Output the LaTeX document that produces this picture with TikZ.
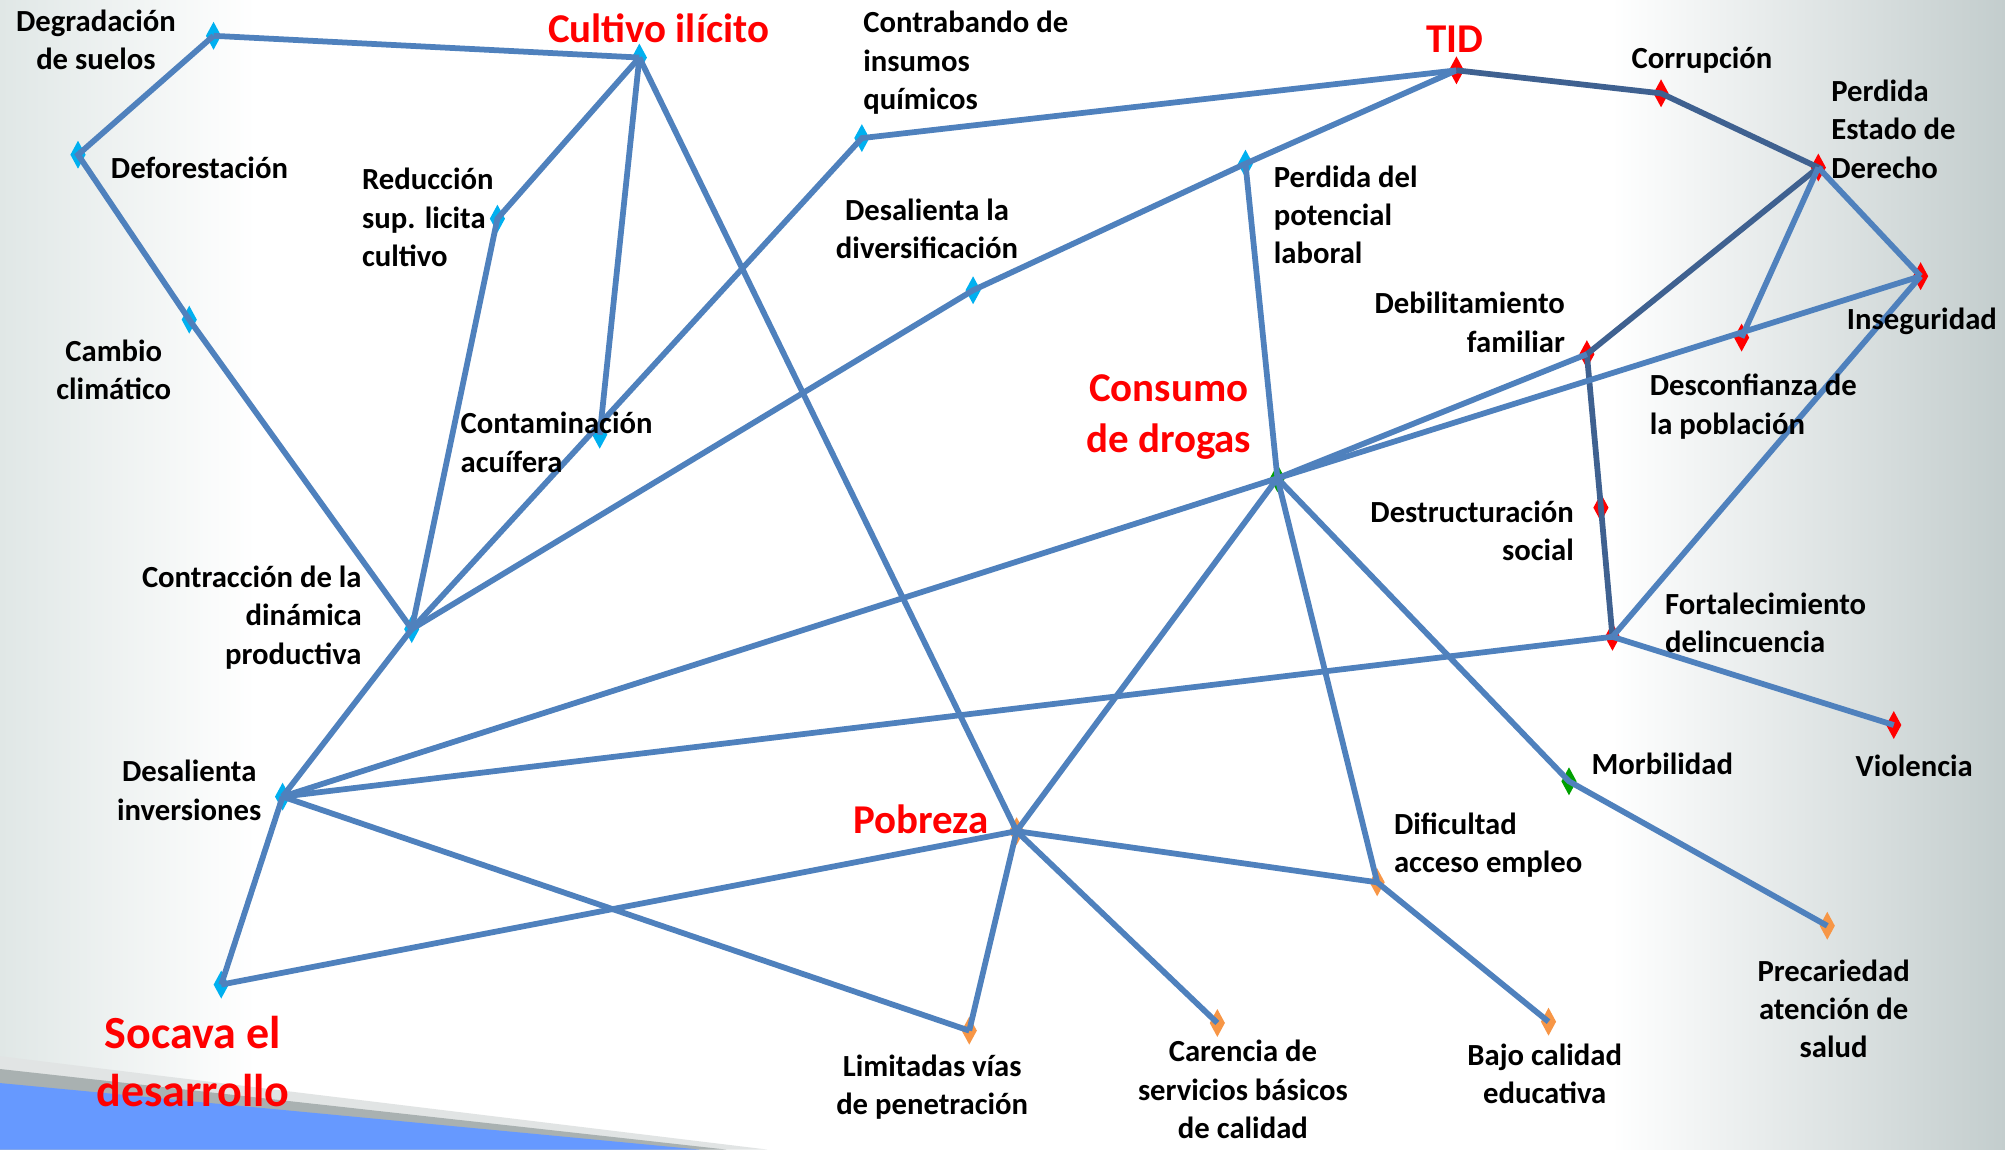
\documentclass[tikz,border=0pt]{standalone}
\usepackage{fontspec}
\setmainfont{Carlito}
\usetikzlibrary{shapes.geometric}
\definecolor{edgeblue}{HTML}{4F81BD}
\definecolor{edgedark}{HTML}{3F6190}
\definecolor{mkcyan}{HTML}{00B0F0}
\definecolor{mkred}{HTML}{FF0000}
\definecolor{mkgreen}{HTML}{00A000}
\definecolor{mkorange}{HTML}{F79646}
\definecolor{bandblue}{HTML}{6699FF}
\definecolor{bandgray}{HTML}{A9B1B1}
\definecolor{sidegray}{HTML}{C3CDCD}
\definecolor{leftgray}{HTML}{E0E7E6}
\tikzset{
  mk/.style={diamond, fill=#1, inner sep=0pt, minimum width=12pt, minimum height=22pt},
  lbl/.style={font=\fontsize{24}{30}\selectfont\bfseries, inner sep=0pt},
  ttl/.style={font=\fontsize{32}{40}\selectfont\bfseries, text=red, inner sep=0pt},
  ln/.style={edgeblue, line width=4.5pt},
  lnd/.style={edgedark, line width=4.5pt}
}

\begin{document}
\begin{tikzpicture}[x=1pt, y=-1pt]
  \useasboundingbox (0,0) rectangle (1568,899);
  \clip (0,0) rectangle (1568,899);
  \fill[white] (0,0) rectangle (1568,899);
  \shade[left color=leftgray, right color=white] (0,0) rectangle (200,899);
  \shade[left color=white, right color=sidegray] (1260,0) rectangle (1568,899);
  \fill[bandgray!35] (0,826) -- (600,899) -- (0,899) -- cycle;
  \fill[bandgray] (0,836) -- (568,899) -- (0,899) -- cycle;
  \fill[bandblue] (0,847) -- (547,899) -- (0,899) -- cycle;

  \node[mk=mkcyan] (ds) at (167,28) {};
  \node[mk=mkcyan] (ci) at (500,45) {};
  \node[mk=mkcyan] (def) at (61,121) {};
  \node[mk=mkcyan] (cc) at (148,250) {};
  \node[mk=mkcyan] (rs) at (389,171) {};
  \node[mk=mkcyan] (ca) at (469,340) {};
  \node[mk=mkcyan] (ciq) at (674,108) {};
  \node[mk=mkcyan] (dd) at (761,227) {};
  \node[mk=mkcyan] (ppl) at (974,128) {};
  \node[mk=mkcyan] (cdp) at (322,492) {};
  \node[mk=mkcyan] (di) at (221,623) {};
  \node[mk=mkcyan] (sd) at (173,770) {};
  \node[mk=mkred] (tid) at (1139,55) {};
  \node[mk=mkred] (cor) at (1299,73) {};
  \node[mk=mkred] (ped) at (1422,131) {};
  \node[mk=mkred] (ins) at (1502,216) {};
  \node[mk=mkred] (dfp) at (1362,264) {};
  \node[mk=mkred] (dfam) at (1241,277) {};
  \node[mk=mkred] (des) at (1252,397) {};
  \node[mk=mkred] (fd) at (1261,498) {};
  \node[mk=mkred] (vio) at (1481,567) {};
  \node[mk=mkgreen] (cd) at (999,374) {};
  \node[mk=mkgreen] (mor) at (1227,611) {};
  \node[mk=mkorange] (pob) at (795,650) {};
  \node[mk=mkorange] (dae) at (1077,690) {};
  \node[mk=mkorange] (lvp) at (758,806) {};
  \node[mk=mkorange] (csb) at (952,800) {};
  \node[mk=mkorange] (bce) at (1211,799) {};
  \node[mk=mkorange] (pas) at (1429,724) {};

  \draw[ln] (ds.center) -- (ci.center);
  \draw[ln] (ds.center) -- (def.center) -- (cc.center) -- (cdp.center);
  \draw[ln] (ci.center) -- (rs.center) -- (cdp.center);
  \draw[ln] (ci.center) -- (ca.center);
  \draw[ln] (ci.center) -- (pob.center);
  \draw[ln] (cdp.center) -- (ciq.center) -- (tid.center);
  \draw[ln] (cdp.center) -- (dd.center) -- (ppl.center) -- (tid.center);
  \draw[ln] (ppl.center) -- (cd.center);
  \draw[lnd] (tid.center) -- (cor.center) -- (ped.center) -- (dfam.center) -- (des.center) -- (fd.center);
  \draw[ln] (ped.center) -- (dfp.center);
  \draw[ln] (ped.center) -- (ins.center);
  \draw[ln] (ins.center) -- (cd.center);
  \draw[ln] (ins.center) -- (fd.center);
  \draw[ln] (cd.center) -- (dfam.center);
  \draw[ln] (cd.center) -- (di.center);
  \draw[ln] (cd.center) -- (pob.center);
  \draw[ln] (cd.center) -- (dae.center) -- (bce.center);
  \draw[ln] (cd.center) -- (mor.center) -- (pas.center);
  \draw[ln] (pob.center) -- (dae.center);
  \draw[ln] (pob.center) -- (lvp.center);
  \draw[ln] (pob.center) -- (csb.center);
  \draw[ln] (pob.center) -- (sd.center);
  \draw[ln] (di.center) -- (lvp.center);
  \draw[ln] (di.center) -- (fd.center);
  \draw[ln] (di.center) -- (sd.center);
  \draw[ln] (di.center) -- (cdp.center);
  \draw[ln] (fd.center) -- (vio.center);

  \node[lbl, align=center] (lds) at (75,31) {Degradación\\de suelos};
  \node[lbl] (ldef) at (156,131) {Deforestación};
  \node[lbl, align=center] (lcc) at (89,289) {Cambio\\climático};
  \node[lbl, align=left, anchor=west] (lrs) at (283,170) {Reducción\\sup. licita\\cultivo};
  \node[lbl, align=left, anchor=west] (lca) at (360,346) {Contaminación\\acuífera};
  \node[lbl, align=left, anchor=west] (lciq) at (675,49) {Contrabando de\\insumos\\químicos};
  \node[lbl, align=center] (ldd) at (725,179) {Desalienta la\\diversificación};
  \node[lbl, align=left, anchor=west] (lppl) at (996,168) {Perdida del\\potencial\\laboral};
  \node[lbl, align=right, anchor=east] (lcdp) at (283,483) {Contracción de la\\dinámica\\productiva};
  \node[lbl, align=center] (ldi) at (148,618) {Desalienta\\inversiones};
  \node[ttl, font=\fontsize{36}{45}\selectfont\bfseries, align=center] (lsd) at (151,830) {Socava el\\desarrollo};
  \node[ttl] (lci) at (515,22) {Cultivo ilícito};
  \node[ttl] (ltid) at (1138,31) {TID};
  \node[lbl] (lcor) at (1331,47) {Corrupción};
  \node[lbl, align=left, anchor=west] (lped) at (1432,101) {Perdida\\Estado de\\Derecho};
  \node[lbl] (lins) at (1503,251) {Inseguridad};
  \node[lbl, align=left, anchor=west] (ldfp) at (1290,318) {Desconfianza de\\la población};
  \node[lbl, align=right, anchor=east] (ldfam) at (1224,252) {Debilitamiento\\familiar};
  \node[lbl, align=right, anchor=east] (ldes) at (1231,415) {Destructuración\\social};
  \node[lbl, align=left, anchor=west] (lfd) at (1302,487) {Fortalecimiento\\delincuencia};
  \node[lbl] (lvio) at (1497,599) {Violencia};
  \node[ttl, align=center] (lcd) at (914,326) {Consumo\\de drogas};
  \node[lbl] (lmor) at (1300,597) {Morbilidad};
  \node[ttl] (lpob) at (720,641) {Pobreza};
  \node[lbl, align=left, anchor=west] (ldae) at (1090,661) {Dificultad\\acceso empleo};
  \node[lbl, align=center] (llvp) at (729,850) {Limitadas vías\\de penetración};
  \node[lbl, align=center] (lcsb) at (972,852) {Carencia de\\servicios básicos\\de calidad};
  \node[lbl, align=center] (lbce) at (1208,840) {Bajo calidad\\educativa};
  \node[lbl, align=center] (lpas) at (1434,789) {Precariedad\\atención de\\salud};
\end{tikzpicture}
\end{document}
